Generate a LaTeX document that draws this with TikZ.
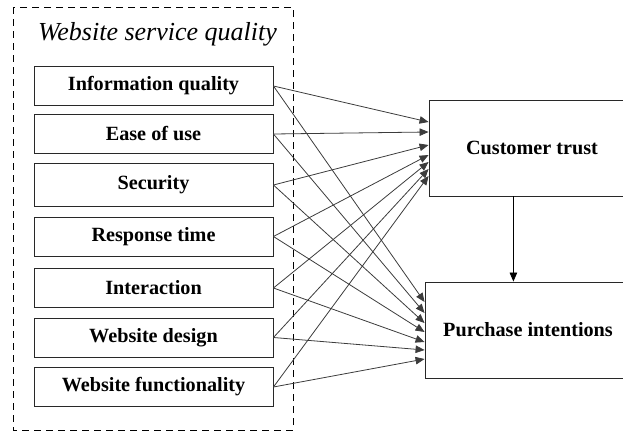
\documentclass[tikz,border=0pt]{standalone}
\usepackage{fontspec}
\setmainfont{Liberation Serif}
\usetikzlibrary{arrows.meta,positioning,calc}
\definecolor{wsqline}{RGB}{60,60,60}
\definecolor{wsqbox}{RGB}{40,40,40}

\begin{document}
\begin{tikzpicture}[x=1pt,y=-1pt,
    dim/.style={draw=wsqbox, line width=0.9pt, minimum width=239pt, minimum height=39pt, inner sep=0pt, font=\fontsize{20.2}{24}\selectfont\bfseries},
    outc/.style={draw=wsqbox, line width=0.9pt, minimum width=206pt, minimum height=96pt, inner sep=0pt, font=\fontsize{20.2}{24}\selectfont\bfseries},
    link/.style={draw=wsqline, line width=0.8pt, -{Triangle[length=9pt,width=7.5pt]}}]
    \useasboundingbox (0,0) rectangle (623,431);
    \clip (0,0) rectangle (623,431);

    % Website service quality block
    \draw[black, line width=0.8pt, dash pattern=on 7pt off 5pt] (13,7) rectangle (293,430);
    \node[font=\fontsize{26}{30}\selectfont\itshape] (title) at (157.5,34) {Website service quality};

    % Dimensions
    \node[dim] (iq) at (153.5,86) {Information quality};
    \node[dim] (eou) at (153.5,134) {Ease of use};
    \node[dim, minimum height=43pt] (sec) at (153.5,185) {Security};
    \node[dim] (rt) at (153.5,236.5) {Response time};
    \node[dim] (inter) at (153.5,288) {Interaction};
    \node[dim] (wd) at (153.5,337.5) {Website design};
    \node[dim] (wf) at (153.5,387) {Website functionality};

    % Outcomes
    \node[outc] (trust) at (532,148) {Customer trust};
    \node[outc] (pi) at (528,330) {Purchase intentions};

    % Paths
    \foreach \src/\dt/\dp in {iq/-26/-28, eou/-16/-17, sec/-3/-7, rt/7/2, inter/14/12, wd/21/20, wf/28/29}{
        \draw[link] (\src.east) -- ($(trust.west)+(0,\dt)$);
        \draw[link] (\src.east) -- ($(pi.west)+(0,\dp)$);
    }
    \draw[link, draw=black] (trust.249) -- (trust.249 |- pi.north);
\end{tikzpicture}
\end{document}
